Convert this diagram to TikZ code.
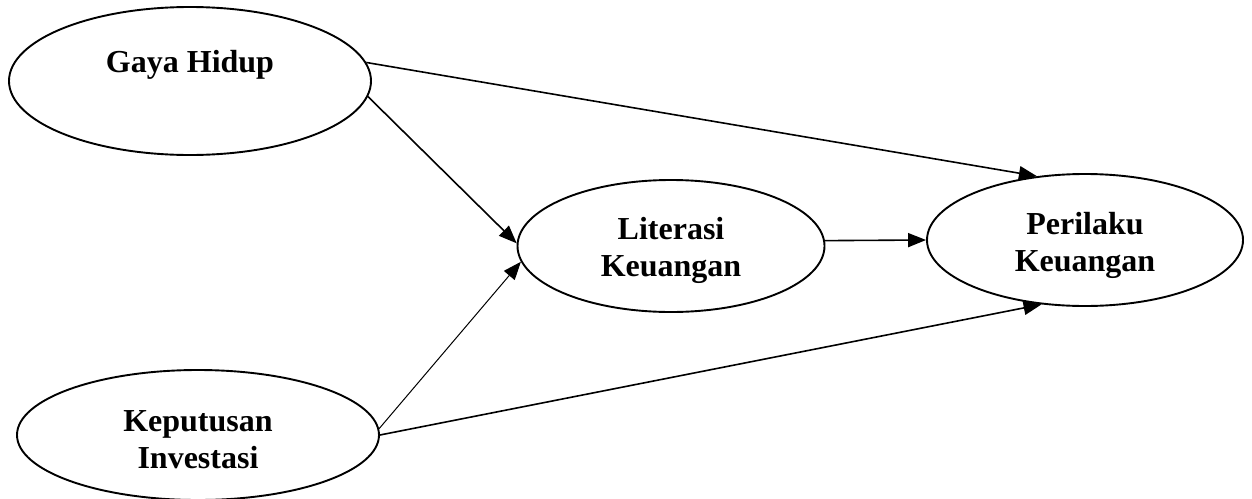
\documentclass[tikz,border=0pt]{standalone}
\usepackage{fontspec}
\setmainfont{Liberation Serif}
\usetikzlibrary{shapes.geometric,arrows.meta}
\begin{document}
\begin{tikzpicture}[x=1pt,y=-1pt,
  ell/.style={draw,ellipse,line width=1.9pt,inner sep=0pt},
  lbl/.style={font=\fontsize{32}{37}\selectfont\bfseries,align=center},
  conn/.style={line width=1.6pt,-{Triangle[length=18pt,width=14pt]}},
  thinconn/.style={line width=1pt,-{Triangle[length=18pt,width=14pt]}}]
\useasboundingbox (0,0) rectangle (1252,498);
\node[ell,minimum width=362pt,minimum height=148pt] (gh) at (190,81) {};
\node[lbl] (ghl) at (190,65) {Gaya Hidup};
\node[ell,minimum width=307pt,minimum height=132pt] (lk) at (671,246) {};
\node[lbl] (lkl) at (671,250) {Literasi\\Keuangan};
\node[ell,minimum width=316pt,minimum height=132pt] (pk) at (1085,240) {};
\node[lbl] (pkl) at (1085,245) {Perilaku\\Keuangan};
\node[ell,minimum width=362pt,minimum height=130pt] (ki) at (198,435) {};
\node[lbl] (kil) at (198,440) {Keputusan\\Investasi};
\draw[conn] (gh.6.4) -- (pk.127);
\draw[conn] (gh.-5.3) -- (lk.179);
\draw[thinconn] (ki.2.5) -- (lk.186);
\draw[conn] (ki.-0.3) -- (pk.236);
\draw[conn] (lk.2) -- (pk.180.7);
\end{tikzpicture}
\end{document}
